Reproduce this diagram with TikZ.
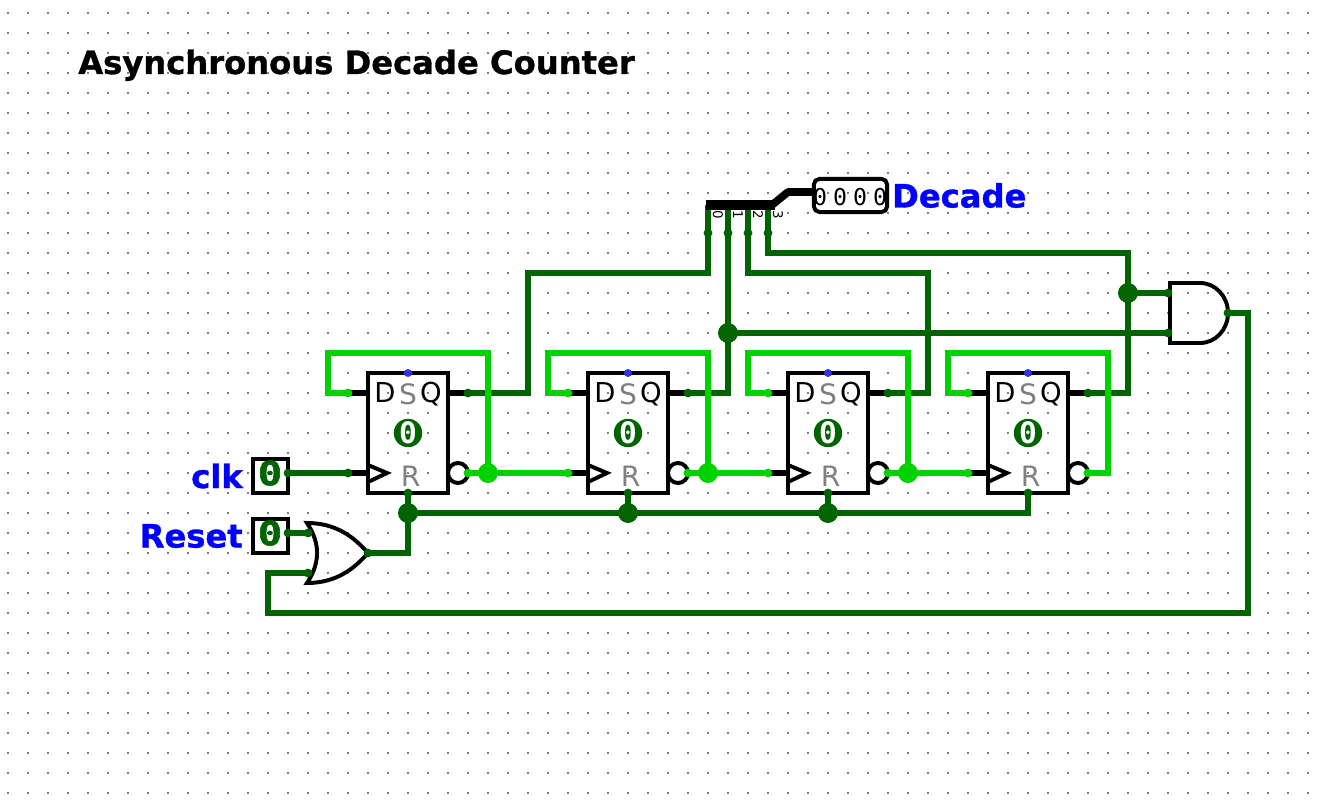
\documentclass[tikz,border=0pt]{standalone}
\usepackage{fontspec}
\setmainfont{DejaVu Sans}
\setmonofont{DejaVu Sans Mono}
\newfontfamily\heavybit[FakeBold=1.5]{DejaVu Sans Mono Bold}
\newfontfamily\heavyname[FakeBold=1]{DejaVu Sans Bold}
\usetikzlibrary{positioning}
\definecolor{wirelo}{RGB}{0,100,0}
\definecolor{wirehi}{RGB}{0,210,0}
\definecolor{griddot}{RGB}{128,128,128}
\definecolor{pinblue}{RGB}{50,50,240}
\definecolor{namecol}{RGB}{0,0,255}
\tikzset{
  lo/.style={draw=wirelo, line width=4.3pt, line cap=square},
  hi/.style={draw=wirehi, line width=4.3pt, line cap=square},
  stub/.style={draw=black, line width=4.3pt},
  outline/.style={draw=black, line width=2.8pt, line join=miter},
  pinlabel/.style={anchor=base, inner sep=0pt, font=\fontsize{19.5}{22}\selectfont},
  pingray/.style={anchor=base, inner sep=0pt, text=gray, font=\fontsize{20}{22}\selectfont},
  statebit/.style={circle, fill=wirelo, text=white, minimum size=0.7cm, inner sep=0pt,
    font=\fontsize{21}{24}\ttfamily\bfseries},
  inbox/.style={draw=black, line width=2.8pt, minimum width=0.875cm, minimum height=0.85cm, inner sep=0pt},
  inbit/.style={inner sep=0pt, text=wirelo, font=\fontsize{24}{26}\heavybit},
  namelabel/.style={inner sep=0pt, text=namecol, font=\fontsize{22.9}{26}\heavyname},
  outbit/.style={inner sep=0pt, font=\fontsize{16.5}{18}\ttfamily},
  splitnum/.style={inner sep=0pt, rotate=-90, font=\fontsize{9.5}{10}\selectfont},
  flipflop/.pic={
      \draw[outline] (0,0) rectangle (4,6);
      \draw[stub] (-1,1) -- (0,1);
      \draw[stub] (4,1) -- (5,1);
      \draw[stub] (-1,5) -- (0,5);
      \draw[outline] (0,4.6) -- (0.95,5) -- (0,5.45);
      \draw[outline] (4.5,5) circle (.5);
      \node[pinlabel] (-dname) at (0.85,1.5) {D};
      \node[pingray] (-sname) at (2,1.6) {S};
      \node[pinlabel] (-qname) at (3.15,1.5) {Q};
      \node[pingray] (-rname) at (2.13,5.7) {R};
      \node[statebit] (-bit) at (2,3) {0};
      \fill[pinblue] (2,0) circle (.2);
      \coordinate (-d) at (-1,1);
      \coordinate (-q) at (5,1);
      \coordinate (-c) at (-1,5);
      \coordinate (-n) at (5,5);
      \coordinate (-r) at (2,6);
    },
}
\newcommand{\pinlo}[1]{\fill[wirelo] (#1) circle (.22);}
\newcommand{\pinhi}[1]{\fill[wirehi] (#1) circle (.22);}
\newcommand{\tielo}[1]{\fill[wirelo] (#1) circle (.5);}
\newcommand{\tiehi}[1]{\fill[wirehi] (#1) circle (.5);}
\begin{document}
\begin{tikzpicture}[x=0.5cm, y=-0.5cm]
      \useasboundingbox (-0.4,-0.65) rectangle (65.65,39.9);

      % editor grid
      \foreach \i in {0,...,65} {
        \foreach \j in {0,...,39} {
          \fill[griddot] (\i-.05,\j-.05) rectangle (\i+.05,\j+.05);
        }
      }

      \node[anchor=base west, inner sep=0pt, font=\fontsize{22.9}{26}\heavyname] (title) at (3.5,3.05) {Asynchronous Decade Counter};

      % flip-flops
      \pic (ff1) at (18,18) {flipflop};
      \pic (ff2) at (29,18) {flipflop};
      \pic (ff3) at (39,18) {flipflop};
      \pic (ff4) at (49,18) {flipflop};

      % inputs
      \node[inbox] (clk) at (13.125,23.15) {};
      \node[inbox] (reset) at (13.125,26.15) {};
      \node[inbit] (clkbit) at (13.1,23) {\scalebox{1.2}[1]{0}};
      \node[inbit] (resetbit) at (13.1,26) {\scalebox{1.2}[1]{0}};
      \node[namelabel, left=0.2cm of clk] (clkname) {clk};
      \node[namelabel, left=0.2cm of reset] (resetname) {Reset};
      \coordinate (clkpin) at (14,23);
      \coordinate (resetpin) at (14,26);

      % or gate
      \draw[outline] (14.95,25.5) .. controls (16.4,25.5) and (17.3,26.2) .. (18,27)
        .. controls (17.3,27.8) and (16.4,28.5) .. (14.95,28.5)
        .. controls (15.62,27.5) and (15.62,26.5) .. cycle;
      \coordinate (ora) at (15,26);
      \coordinate (orb) at (15,28);
      \coordinate (oro) at (18,27);

      % and gate
      \draw[outline] (58.1,13.5) -- (59.6,13.5) arc[start angle=-90, end angle=90, x radius=1.4, y radius=1.5] -- (58.1,16.5) -- cycle;
      \coordinate (anda) at (58,14);
      \coordinate (andb) at (58,16);
      \coordinate (ando) at (61,15);

      % splitter and output
      \coordinate (s0) at (35,11);
      \coordinate (s1) at (36,11);
      \coordinate (s2) at (37,11);
      \coordinate (s3) at (38,11);
      \node[draw=black, line width=2.8pt, rounded corners=4pt, minimum width=1.83cm, minimum height=0.83cm, inner sep=0pt] (decade) at (42.125,9.125) {};
      \foreach \k in {0,1,2,3} {
        \node[outbit] (bit\k) at (40.6+\k,9.2) {0};
      }
      \node[namelabel, right=0.07cm of decade] (decadename) {Decade};
      \foreach \k in {0,1,2,3} {
        \node[splitnum] (num\k) at (35.5+\k,10.1) {\k};
      }

      % junctions
      \coordinate (fb1) at (24,23);
      \coordinate (fb2) at (35,23);
      \coordinate (fb3) at (45,23);
      \coordinate (rst1) at (20,25);
      \coordinate (rst2) at (31,25);
      \coordinate (rst3) at (41,25);
      \coordinate (tap1) at (36,16);
      \coordinate (tap3) at (56,14);
      \coordinate (bend) at (39,8.95);

      % low wires
      \draw[lo] (clkpin) -- (ff1-c);
      \draw[lo] (resetpin) -- (ora);
      \draw[lo] (ff1-q) -| ++(3,-6) -| (s0) -- ++(0,-1.4);
      \draw[lo] (ff2-q) -| (s1) -- ++(0,-1.4);
      \draw[lo] (ff3-q) -| ++(2,-6) -| (s2) -- ++(0,-1.4);
      \draw[lo] (ff4-q) -| ++(2,-7) -| (s3) -- ++(0,-1.4);
      \draw[lo] (tap1) -- (andb);
      \draw[lo] (tap3) -- (anda);
      \draw[lo] (ff1-r) -- (rst1) |- (oro);
      \draw[lo] (ff4-r) |- (rst1);
      \draw[lo] (ff2-r) -- (rst2);
      \draw[lo] (ff3-r) -- (rst3);
      \draw[lo] (ando) -| ++(1,15) -| ++(-49,-2) -- (orb);

      % high wires
      \draw[hi] (ff1-d) -- ++(-1,0) -- ++(0,-2) -| (fb1);
      \draw[hi] (ff2-d) -- ++(-1,0) -- ++(0,-2) -| (fb2);
      \draw[hi] (ff3-d) -- ++(-1,0) -- ++(0,-2) -| (fb3);
      \draw[hi] (ff4-d) -- ++(-1,0) -- ++(0,-2) -| ++(8,6) -- (ff4-n);
      \draw[hi] (ff1-n) -- (fb1) -- (ff2-c);
      \draw[hi] (ff2-n) -- (fb2) -- (ff3-c);
      \draw[hi] (ff3-n) -- (fb3) -- (ff4-c);

      % splitter bar
      \draw[line width=7pt] (34.9,9.6) -- (38.35,9.6);
      \draw[line width=5.5pt, line join=round] (38.2,9.6) -- (bend) -- (decade.west |- bend);

      % dots on top
      \foreach \p in {clkpin,resetpin,ff1-c,ora,orb,oro,anda,andb,ando,s0,s1,s2,s3,
        ff1-q,ff2-q,ff3-q,ff4-q,ff1-r,ff2-r,ff3-r,ff4-r} {
        \pinlo{\p}
      }
      \foreach \p in {ff1-d,ff2-d,ff3-d,ff4-d,ff1-n,ff2-n,ff3-n,ff4-n,ff2-c,ff3-c,ff4-c} {
        \pinhi{\p}
      }
      \foreach \p in {rst1,rst2,rst3,tap1,tap3} {
        \tielo{\p}
      }
      \foreach \p in {fb1,fb2,fb3} {
        \tiehi{\p}
      }

    \end{tikzpicture}
\end{document}
